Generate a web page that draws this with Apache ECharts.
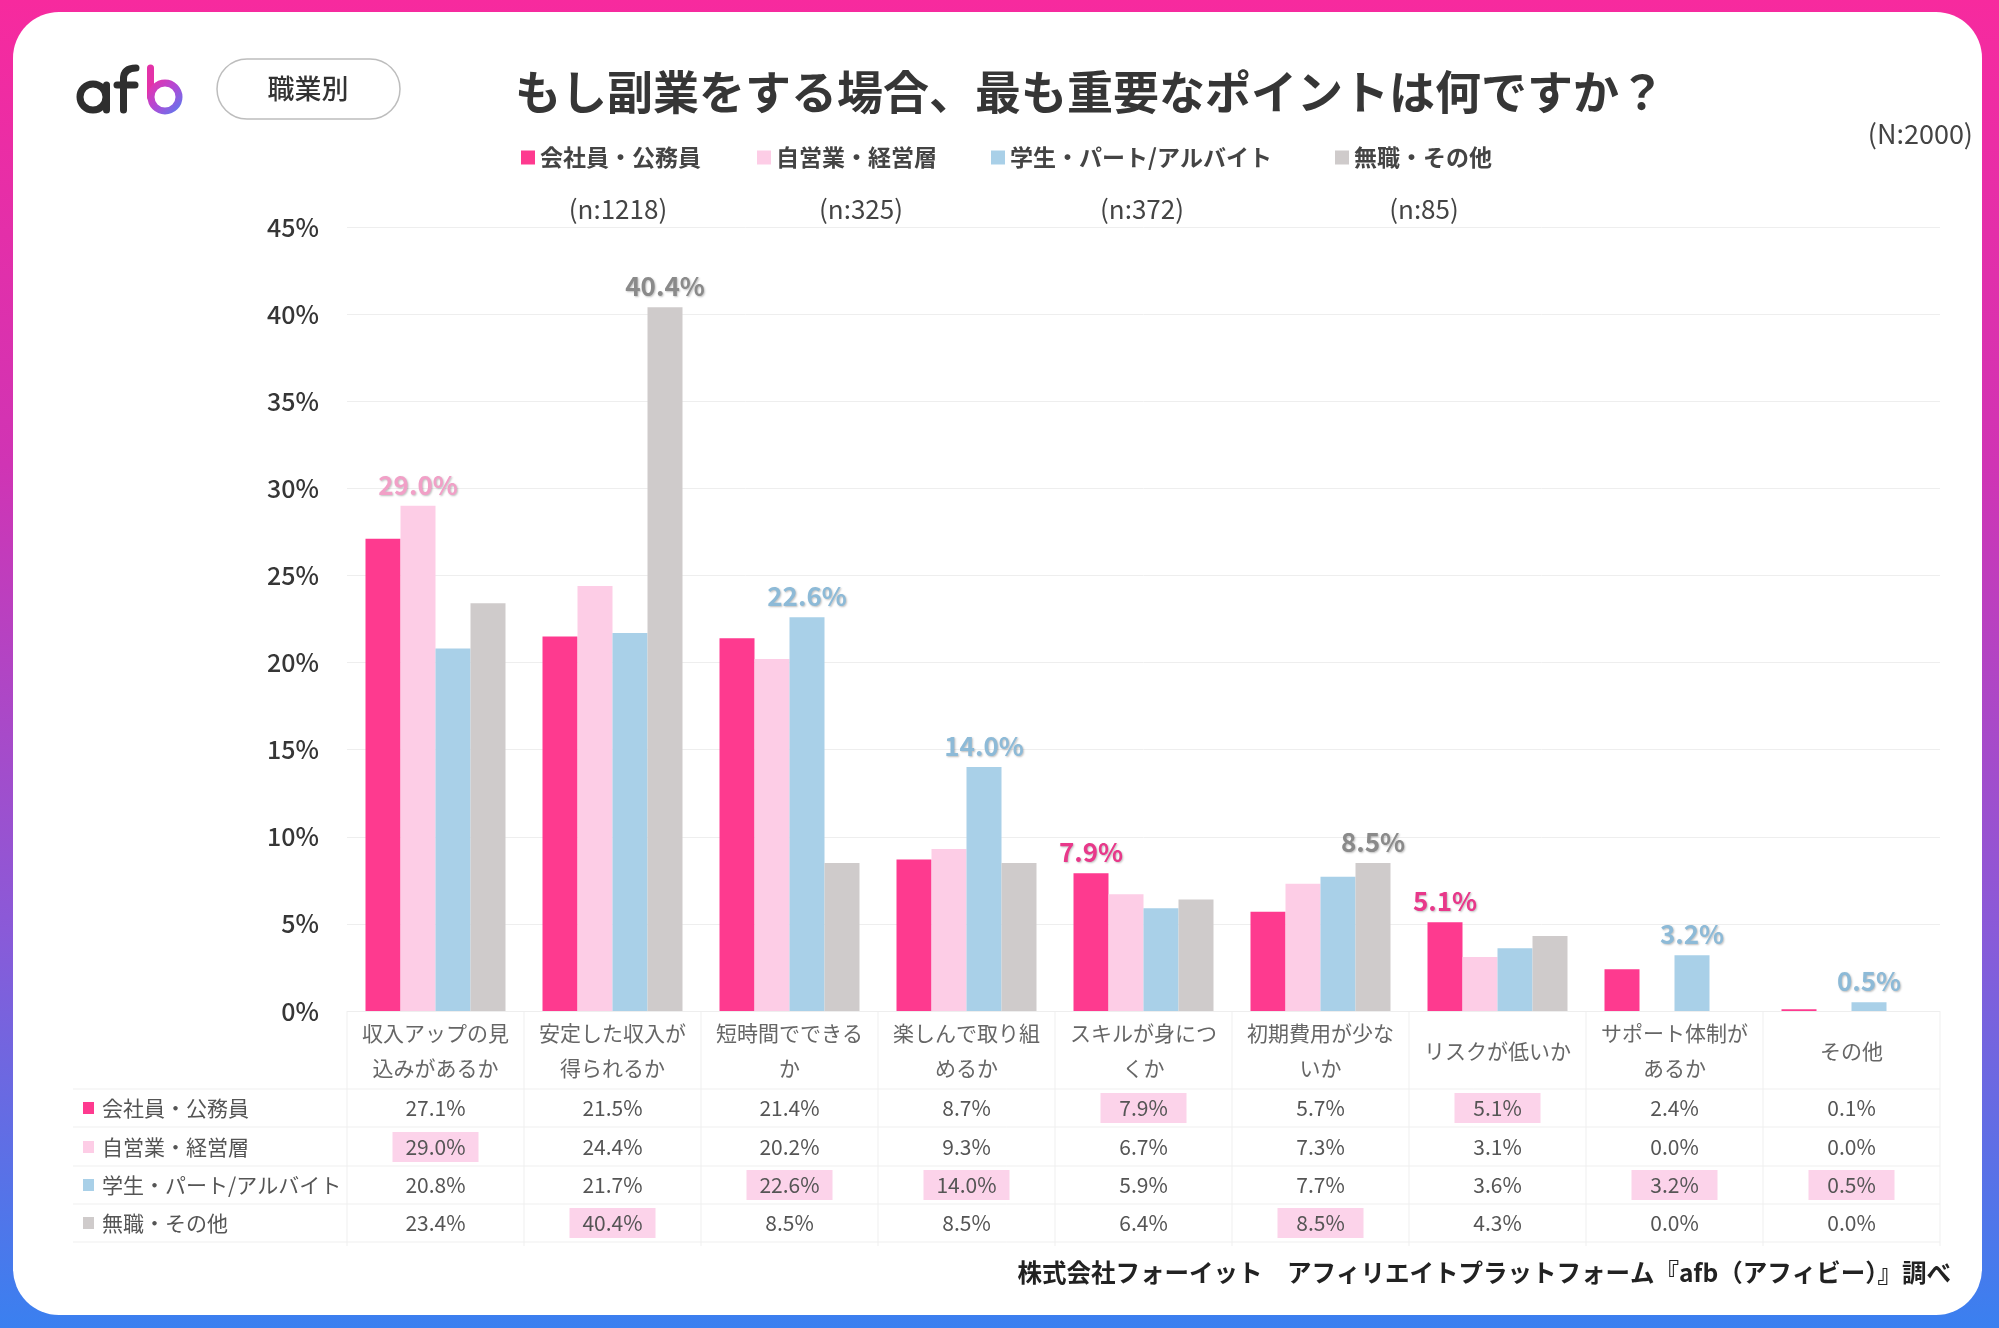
<!DOCTYPE html>
<html>
<head>
<meta charset="utf-8">
<script src="https://cdn.jsdelivr.net/npm/echarts@6/dist/echarts.min.js"></script>
<style>
  html, body { margin: 0; padding: 0; width: 1999px; height: 1328px; overflow: hidden; }
  body { background: linear-gradient(180deg, #f72a9e 0%, #d034b4 35%, #8a5ad8 70%, #3a80f0 100%); }
  #card { position: absolute; left: 13px; top: 12px; width: 1969px; height: 1303px; background: #fff; border-radius: 46px; }
  #chart { position: absolute; left: 0; top: 0; width: 1999px; height: 1328px; }
</style>
</head>
<body>
<div id="card"></div>
<div id="chart"></div>
<script>
// 項目
const categories = ['収入アップの見込みがあるか', '安定した収入が得られるか', '短時間でできるか', '楽しんで取り組めるか',
  'スキルが身につくか', '初期費用が少ないか', 'リスクが低いか', 'サポート体制があるか', 'その他']
// 職業別
const seriesNames = ['会社員・公務員', '自営業・経営層', '学生・パート/アルバイト', '無職・その他']
const sampleSizes = ['(n:1218)', '(n:325)', '(n:372)', '(n:85)']
const kaishain = [27.1, 21.5, 21.4, 8.7, 7.9, 5.7, 5.1, 2.4, 0.1]
const jieigyo = [29.0, 24.4, 20.2, 9.3, 6.7, 7.3, 3.1, 0.0, 0.0]
const gakusei = [20.8, 21.7, 22.6, 14.0, 5.9, 7.7, 3.6, 3.2, 0.5]
const mushoku = [23.4, 40.4, 8.5, 8.5, 6.4, 8.5, 4.3, 0.0, 0.0]

const values = [kaishain, jieigyo, gakusei, mushoku]
const colors = ['#fe3a8f', '#fdcde6', '#a9d0e8', '#cfcbcb']
const labelColors = ['#e8388a', '#f1a0c7', '#8dbad7', '#8a8a8a']
const FONT = '"Noto Sans CJK JP", "Noto Sans", sans-serif'

// 各項目で一番高い職業
const maxIdx = categories.map((c, i) => {
  let best = 0
  values.forEach((arr, s) => { if (arr[i] > values[best][i]) best = s })
  return best
})

const chart = echarts.init(document.getElementById('chart'))

const legendLefts = [516, 752, 986, 1330]

const option = {
  textStyle: { fontFamily: FONT },
  animation: false,
  grid: { left: 347, right: 59, top: 227, bottom: 317 },
  legend: seriesNames.map((name, s) => ({
    data: [name],
    left: legendLefts[s],
    top: 141,
    icon: 'rect',
    itemWidth: 14,
    itemHeight: 14,
    selectedMode: false,
    textStyle: { fontSize: 23, fontWeight: 'bold', color: '#444', fontFamily: FONT }
  })),
  xAxis: {
    type: 'category',
    data: categories,
    axisTick: { show: false },
    axisLine: { lineStyle: { color: '#eeeeee' } },
    axisLabel: {
      interval: 0,
      margin: 5,
      fontSize: 21,
      color: '#666',
      lineHeight: 35,
      formatter: v => v.length > 7 ? v.slice(0, 7) + '\n' + v.slice(7) : '{one|' + v + '}',
      rich: { one: { fontSize: 21, color: '#666', lineHeight: 70 } }
    }
  },
  yAxis: {
    type: 'value',
    min: 0,
    max: 45,
    interval: 5,
    axisLabel: { formatter: '{value}%', fontSize: 25, color: '#363636', fontWeight: 500, margin: 28 },
    splitLine: { lineStyle: { color: '#eeeeee' } }
  },
  series: seriesNames.map((name, s) => ({
    name: name,
    type: 'bar',
    barWidth: 35,
    barGap: '0%',
    itemStyle: { color: colors[s] },
    label: {
      position: 'top',
      distance: 8,
      fontSize: 26,
      fontWeight: 'bold',
      color: labelColors[s],
      textShadowColor: 'rgba(0,0,0,0.25)',
      textShadowBlur: 2,
      textShadowOffsetX: 1,
      textShadowOffsetY: 1,
      formatter: p => p.value.toFixed(1) + '%'
    },
    data: values[s].map((v, i) => ({ value: v, label: { show: maxIdx[i] === s } }))
  }))
}
chart.setOption(option)

// 下の表
const colX = categories.map(c => chart.convertToPixel({ xAxisIndex: 0 }, c))
const catW = colX[1] - colX[0]
const rowY = [1108, 1147, 1185, 1223]
const lineY = [1089, 1127, 1166, 1204, 1242]
const g = []

lineY.forEach(y => {
  g.push({ type: 'line', shape: { x1: 73, y1: y, x2: 1940, y2: y }, style: { stroke: '#efefef', lineWidth: 1 } })
})
for (let c = 0; c <= categories.length; c++) {
  const x = colX[0] - catW / 2 + c * catW
  g.push({ type: 'line', shape: { x1: x, y1: 1012, x2: x, y2: 1246 }, style: { stroke: '#efefef', lineWidth: 1 } })
}
seriesNames.forEach((name, s) => {
  g.push({ type: 'rect', shape: { x: 83, y: rowY[s] - 6, width: 11, height: 12 }, style: { fill: colors[s] } })
  g.push({ type: 'text', style: { text: name, x: 102, y: rowY[s], font: '21px ' + FONT, fill: '#555', verticalAlign: 'middle' } })
  values[s].forEach((v, i) => {
    if (maxIdx[i] === s) {
      g.push({ type: 'rect', shape: { x: colX[i] - 43, y: rowY[s] - 15, width: 86, height: 30 }, style: { fill: '#fcd3ea' } })
    }
    g.push({ type: 'text', style: { text: v.toFixed(1) + '%', x: colX[i], y: rowY[s], font: '21px ' + FONT, fill: '#555', align: 'center', verticalAlign: 'middle' } })
  })
})

// ロゴ (afb)
const dark = { stroke: '#2e2e2e', lineWidth: 7, lineCap: 'round', fill: 'none' }
const grad = new echarts.graphic.LinearGradient(0, 0, 1, 1, [
  { offset: 0, color: '#f02ea4' }, { offset: 0.5, color: '#b04ad6' }, { offset: 1, color: '#4f82f2' }])
g.push({ type: 'circle', shape: { cx: 93, cy: 97, r: 13 }, style: dark })
g.push({ type: 'line', shape: { x1: 106.5, y1: 85, x2: 106.5, y2: 110 }, style: dark })
g.push({ type: 'line', shape: { x1: 123.5, y1: 110, x2: 123.5, y2: 79 }, style: dark })
g.push({ type: 'bezierCurve', shape: { x1: 123.5, y1: 79, cpx1: 123.5, cpy1: 68, x2: 136, y2: 68 }, style: dark })
g.push({ type: 'line', shape: { x1: 117, y1: 85, x2: 135, y2: 85 }, style: dark })
g.push({ type: 'line', shape: { x1: 150.5, y1: 68, x2: 150.5, y2: 97 }, style: { stroke: '#e332a8', lineWidth: 7, lineCap: 'round' } })
g.push({ type: 'circle', shape: { cx: 165, cy: 97, r: 14 }, style: { stroke: grad, lineWidth: 7, fill: 'none' } })

// タイトル
g.push({ type: 'rect', shape: { x: 217, y: 59, width: 183, height: 60, r: 30 }, style: { fill: '#fff', stroke: '#bdbdbd', lineWidth: 1.5 } })
g.push({ type: 'text', style: { text: '職業別', x: 308, y: 89, font: '500 27px ' + FONT, fill: '#333', align: 'center', verticalAlign: 'middle' } })
g.push({ type: 'text', style: { text: 'もし副業をする場合、最も重要なポイントは何ですか？', x: 1090, y: 92, font: 'bold 46px ' + FONT, fill: '#363636', align: 'center', verticalAlign: 'middle' } })
g.push({ type: 'text', style: { text: '(N:2000)', x: 1973, y: 134, font: '27px ' + FONT, fill: '#444', align: 'right', verticalAlign: 'middle' } })
const nX = [618, 861, 1142, 1424]
sampleSizes.forEach((t, s) => {
  g.push({ type: 'text', style: { text: t, x: nX[s], y: 209, font: '26px ' + FONT, fill: '#444', align: 'center', verticalAlign: 'middle' } })
})
g.push({ type: 'text', style: { text: '株式会社フォーイット　アフィリエイトプラットフォーム『afb（アフィビー）』調べ', x: 1951, y: 1273, font: 'bold 24.5px ' + FONT, fill: '#222', align: 'right', verticalAlign: 'middle' } })

chart.setOption({ graphic: g })
</script>
</body>
</html>
